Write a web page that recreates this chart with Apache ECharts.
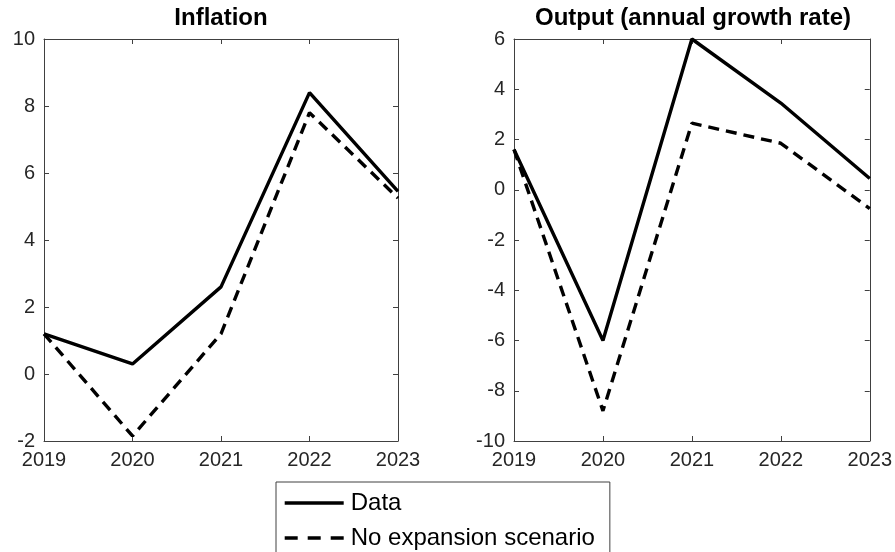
<!DOCTYPE html>
<html>
<head>
<meta charset="utf-8">
<script src="https://cdn.jsdelivr.net/npm/echarts@6/dist/echarts.min.js"></script>
<style>html,body{margin:0;padding:0;background:#fff}#c{width:895px;height:552px}</style>
</head>
<body>
<div id="c"></div>
<script>
var years = ['2019', '2020', '2021', '2022', '2023'];
var inflationData = [1.2, 0.3, 2.6, 8.4, 5.45];
var inflationNoExp = [1.2, -1.85, 1.2, 7.8, 5.25];
var outputData = [1.6, -6.0, 6.0, 3.45, 0.45];
var outputNoExp = [1.6, -8.8, 2.65, 1.85, -0.75];
var titles = ['Inflation', 'Output (annual growth rate)'];
var seriesNames = ['Data', 'No expansion scenario'];

var axisColor = '#404040';
var textColor = '#262626';
var font = 'Liberation Sans, Arial, Helvetica, sans-serif';

function xAx(grid, pos, labels) {
  return {
    type: 'category', data: years, gridIndex: grid, position: pos, boundaryGap: false,
    axisLine: {show: true, onZero: false, lineStyle: {color: axisColor, width: 1}},
    axisTick: {show: true, inside: true, length: 5, lineStyle: {color: axisColor}},
    axisLabel: {show: labels, color: textColor, fontSize: 20, fontFamily: font, margin: 9},
    splitLine: {show: false}
  };
}
function yAx(grid, pos, min, max, labels) {
  return {
    type: 'value', gridIndex: grid, position: pos, min: min, max: max, interval: 2,
    axisLine: {show: true, onZero: false, lineStyle: {color: axisColor, width: 1}},
    axisTick: {show: true, inside: true, length: 5, lineStyle: {color: axisColor}},
    axisLabel: {show: labels, color: textColor, fontSize: 20, fontFamily: font, margin: 9},
    splitLine: {show: false}
  };
}
var solid = {color: '#000', width: 3.4, type: 'solid'};
var dashed = {color: '#000', width: 3.4, type: [11, 7]};

var option = {
  animation: false,
  backgroundColor: '#fff',
  title: [
    {text: titles[0], left: 221, top: 6, textAlign: 'center', padding: 0,
     textStyle: {fontSize: 24, fontWeight: 'bold', color: '#000', fontFamily: font}},
    {text: titles[1], left: 693, top: 6, textAlign: 'center', padding: 0,
     textStyle: {fontSize: 24, fontWeight: 'bold', color: '#000', fontFamily: font}}
  ],
  grid: [
    {left: 44, right: 497, top: 39, bottom: 111},
    {left: 514, right: 23, top: 39, bottom: 111}
  ],
  xAxis: [xAx(0, 'bottom', true), xAx(0, 'top', false), xAx(1, 'bottom', true), xAx(1, 'top', false)],
  yAxis: [yAx(0, 'left', -2, 10, true), yAx(0, 'right', -2, 10, false),
          yAx(1, 'left', -10, 6, true), yAx(1, 'right', -10, 6, false)],
  legend: {
    orient: 'vertical', left: 276, top: 482, height: 120,
    data: [{name: seriesNames[0]}, {name: seriesNames[1], lineStyle: {type: [13, 10], width: 3.4}}],
    itemWidth: 59, itemHeight: 14, itemGap: 11,
    padding: [9, 15, 30, 7],
    borderColor: axisColor, borderWidth: 1, backgroundColor: '#fff',
    itemStyle: {opacity: 0},
    lineStyle: {width: 3.4},
    textStyle: {fontSize: 24, color: '#000', fontFamily: font, padding: [0, 0, 0, 2]}
  },
  series: [
    {name: seriesNames[0], type: 'line', xAxisIndex: 0, yAxisIndex: 0, data: inflationData, symbol: 'none', lineStyle: solid, itemStyle: {color: '#000'}},
    {name: seriesNames[1], type: 'line', xAxisIndex: 0, yAxisIndex: 0, data: inflationNoExp, symbol: 'none', lineStyle: dashed, itemStyle: {color: '#000'}},
    {name: seriesNames[0], type: 'line', xAxisIndex: 2, yAxisIndex: 2, data: outputData, symbol: 'none', lineStyle: solid, itemStyle: {color: '#000'}},
    {name: seriesNames[1], type: 'line', xAxisIndex: 2, yAxisIndex: 2, data: outputNoExp, symbol: 'none', lineStyle: dashed, itemStyle: {color: '#000'}}
  ]
};
var chart = echarts.init(document.getElementById('c'), null, {renderer: 'canvas'});
chart.setOption(option);
</script>
</body>
</html>
